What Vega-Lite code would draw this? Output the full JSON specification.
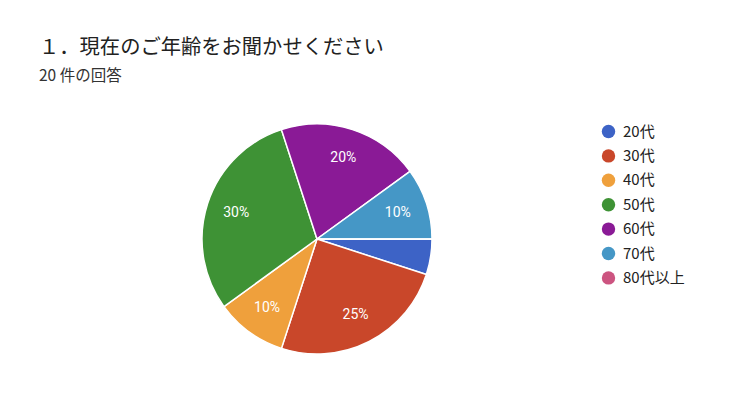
{
  "$schema": "https://vega.github.io/schema/vega-lite/v6.json",
  "autosize": "none",
  "width": 230,
  "height": 230,
  "padding": {"left": 202, "top": 124, "right": 308, "bottom": 58},
  "background": "white",
  "config": {"view": {"stroke": null}, "font": "Noto Sans CJK JP"},
  "title": {
    "text": "１．現在のご年齢をお聞かせください",
    "subtitle": "20 件の回答",
    "anchor": "start",
    "frame": "group",
    "dx": -163,
    "offset": 37,
    "fontSize": 20.3,
    "fontWeight": "normal",
    "color": "#212121",
    "subtitleFontSize": 15.5,
    "subtitleColor": "#333333",
    "subtitlePadding": 10,
    "font": "Noto Sans CJK JP",
    "subtitleFont": "Noto Sans CJK JP"
  },
  "data": {
    "values": [
      {"age": "20代", "pct": 5, "label": ""},
      {"age": "30代", "pct": 25, "label": "25%"},
      {"age": "40代", "pct": 10, "label": "10%"},
      {"age": "50代", "pct": 30, "label": "30%"},
      {"age": "60代", "pct": 20, "label": "20%"},
      {"age": "70代", "pct": 10, "label": "10%"},
      {"age": "80代以上", "pct": 0, "label": ""}
    ]
  },
  "encoding": {
    "theta": {"field": "pct", "type": "quantitative", "stack": true, "scale": {"range": [1.5707963, 7.8539816]}},
    "order": {"field": "age", "type": "ordinal", "sort": "ascending"},
    "color": {
      "field": "age",
      "type": "nominal",
      "sort": ["20代", "30代", "40代", "50代", "60代", "70代", "80代以上"],
      "scale": {
        "domain": ["20代", "30代", "40代", "50代", "60代", "70代", "80代以上"],
        "range": ["#3D63C6", "#C9472A", "#EFA03C", "#3E9235", "#8A1A96", "#4597C6", "#CC5480"]
      },
      "legend": {
        "title": null,
        "orient": "none",
        "legendX": 399,
        "legendY": 0,
        "padding": 0,
        "symbolType": "circle",
        "symbolSize": 180,
        "symbolStrokeWidth": 0,
        "symbolOpacity": 1,
        "labelFontSize": 15,
        "labelColor": "#222222",
        "labelFont": "Noto Sans CJK JP",
        "labelOffset": 7,
        "rowPadding": 8.4
      }
    }
  },
  "layer": [
    {
      "mark": {"type": "arc", "outerRadius": 115, "stroke": "white", "strokeWidth": 1.5}
    },
    {
      "mark": {"type": "text", "radius": 85, "fontSize": 14, "font": "Roboto"},
      "encoding": {
        "text": {"field": "label"},
        "color": {"value": "white"}
      }
    }
  ]
}
